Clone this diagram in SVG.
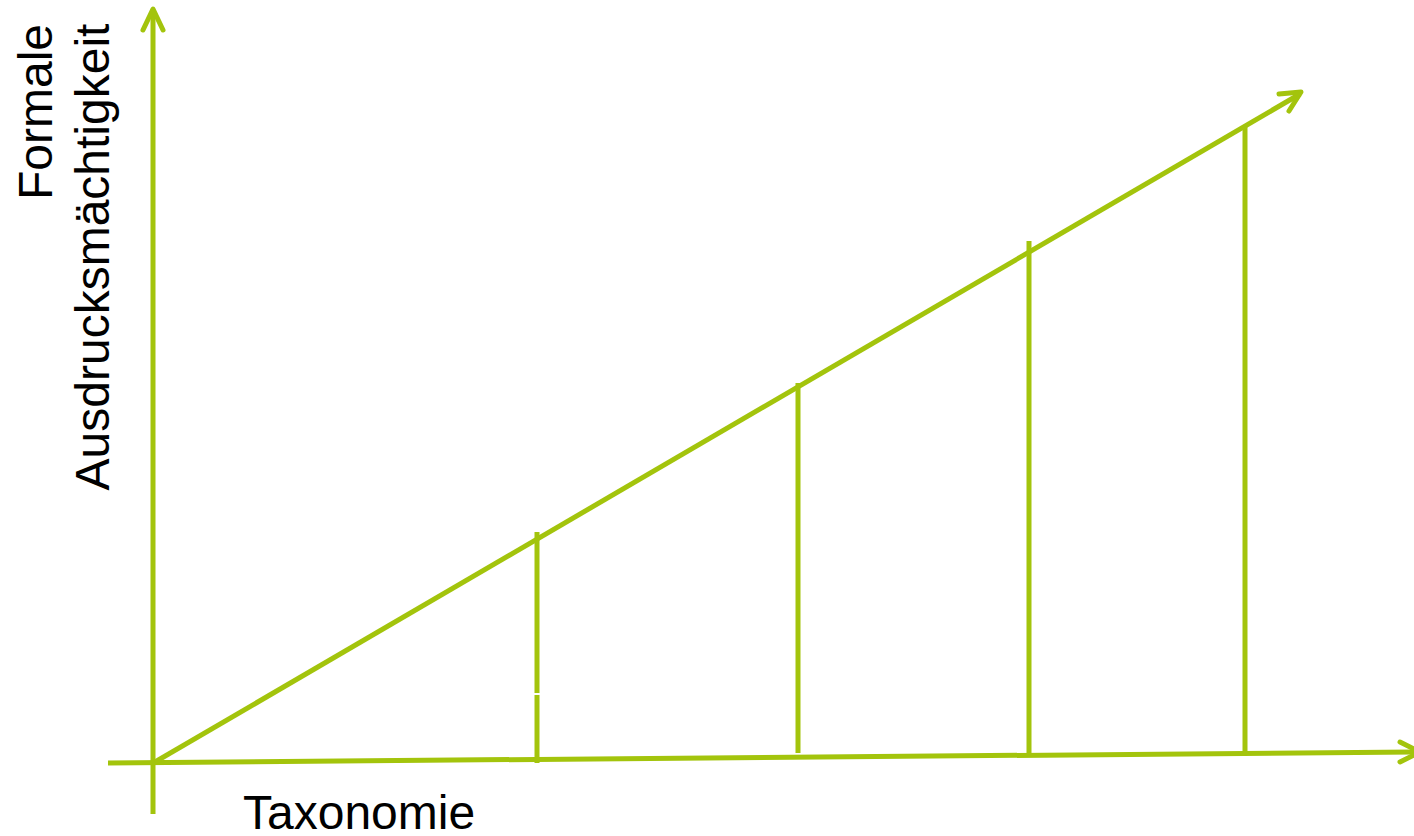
<svg xmlns="http://www.w3.org/2000/svg" width="1414" height="836" viewBox="0 0 1414 836">
<style>
.ln{stroke:#A3C40C;stroke-width:5;fill:none;stroke-linecap:butt}
.ah{stroke:#A3C40C;stroke-width:5;fill:none;stroke-linecap:round;stroke-linejoin:round}
.lbl{font-family:"Liberation Sans",Arial,sans-serif;font-size:48px;fill:#000}
</style>
<rect width="1414" height="836" fill="#fff"/>
<g id="connectors">
<line class="ln" x1="153" y1="12" x2="153" y2="814"/>
<polyline class="ah" points="143,30 153,9 163,30"/>
<line class="ln" x1="108" y1="763" x2="1418" y2="752"/>
<polyline class="ah" points="1400,742 1420,752 1400,762"/>
<line class="ln" x1="155" y1="762" x2="1300" y2="94"/>
<polyline class="ah" points="1279,94 1301,92 1289,111"/>
<line class="ln" x1="537" y1="532" x2="537" y2="693"/>
<line class="ln" x1="537" y1="695" x2="537" y2="763"/>
<line class="ln" x1="798" y1="383" x2="798" y2="753"/>
<line class="ln" x1="1029" y1="241" x2="1029" y2="755"/>
<line class="ln" x1="1245" y1="125" x2="1245" y2="753"/>
</g>
<g id="label-y">
<text class="lbl" text-anchor="middle" transform="translate(52,112) rotate(-90)">Formale</text>
<text class="lbl" text-anchor="middle" transform="translate(109,257) rotate(-90)">Ausdrucksmächtigkeit</text>
</g>
<g id="label-x">
<text class="lbl" x="243" y="829">Taxonomie</text>
</g>
</svg>
